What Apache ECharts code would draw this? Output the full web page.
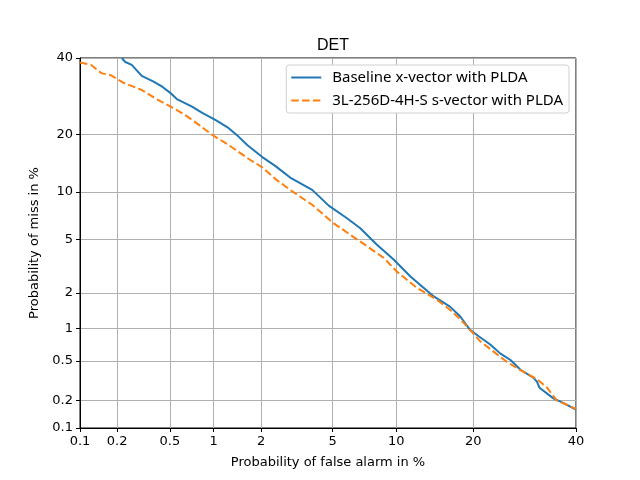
<!DOCTYPE html>
<html>
<head>
<meta charset="utf-8">
<script src="https://cdn.jsdelivr.net/npm/echarts@6/dist/echarts.min.js"></script>
<style>
  html, body { margin: 0; padding: 0; background: #fff; }
  #detContainer { width: 640px; height: 480px; }
</style>
</head>
<body>
<div id="detContainer"></div>
<script>
// tick positions in percent, shown on both axes
const tickPercents = [0.1, 0.2, 0.5, 1, 2, 5, 10, 20, 40];
const tickLabels = ['0.1', '0.2', '0.5', '1', '2', '5', '10', '20', '40'];

// Baseline x-vector with PLDA: false alarm % / miss %
const baselineFa = [0.218, 0.23, 0.26, 0.31, 0.38, 0.44, 0.5, 0.56, 0.71, 0.84, 1.02, 1.25, 1.45, 1.65, 2.02, 2.42, 2.95, 3.9, 4.77, 5.9, 6.85, 8.2, 9.74, 11.5, 14.3, 16.5, 18.0, 19.5, 20.9, 22.9, 24.6, 26.5, 28.4, 31.0, 31.7, 32.2, 35.1, 37.3, 40];
const baselineMiss = [40, 38.9, 38.0, 34.8, 33.2, 31.8, 30.2, 28.5, 26.6, 25, 23.4, 21.5, 19.6, 17.8, 15.6, 14.0, 12.1, 10.3, 8.3, 6.92, 5.96, 4.6, 3.61, 2.69, 1.87, 1.54, 1.27, 0.97, 0.85, 0.71, 0.59, 0.51, 0.41, 0.34, 0.31, 0.27, 0.21, 0.187, 0.159];

// 3L-256D-4H-S s-vector with PLDA
const svectorFa = [0.1, 0.123, 0.15, 0.178, 0.205, 0.227, 0.31, 0.39, 0.516, 0.64, 0.79, 0.975, 1.25, 1.68, 2.02, 2.42, 2.95, 3.9, 5.04, 6.12, 7.37, 8.8, 10.06, 12.25, 14.7, 16.5, 18.1, 19.5, 21.2, 23.5, 25.8, 29.0, 31.7, 33.8, 35.8, 40];
const svectorMiss = [38.7, 38.0, 35.6, 35.0, 33.7, 32.8, 30.9, 28.7, 26.4, 24.5, 22.3, 20.0, 17.9, 15.2, 13.8, 11.9, 10.3, 8.4, 6.44, 5.39, 4.49, 3.71, 2.93, 2.19, 1.76, 1.45, 1.19, 0.97, 0.76, 0.61, 0.49, 0.39, 0.33, 0.27, 0.2, 0.162];

// normal deviate (inverse normal cdf), Acklam's approximation
function probit(p) {
  const a = [-3.969683028665376e+01, 2.209460984245205e+02, -2.759285104469687e+02, 1.383577518672690e+02, -3.066479806614716e+01, 2.506628277459239e+00];
  const b = [-5.447609879822406e+01, 1.615858368580409e+02, -1.556989798598866e+02, 6.680131188771972e+01, -1.328068155288572e+01];
  const c = [-7.784894002430293e-03, -3.223964580411365e-01, -2.400758277161838e+00, -2.549732539343734e+00, 4.374664141464968e+00, 2.938163982698783e+00];
  const d = [7.784695709041462e-03, 3.224671290700398e-01, 2.445134137142996e+00, 3.754408661907416e+00];
  const pl = 0.02425;
  if (p < pl) {
    const q = Math.sqrt(-2 * Math.log(p));
    return (((((c[0] * q + c[1]) * q + c[2]) * q + c[3]) * q + c[4]) * q + c[5]) /
      ((((d[0] * q + d[1]) * q + d[2]) * q + d[3]) * q + 1);
  }
  if (p <= 1 - pl) {
    const q = p - 0.5, r = q * q;
    return (((((a[0] * r + a[1]) * r + a[2]) * r + a[3]) * r + a[4]) * r + a[5]) * q /
      (((((b[0] * r + b[1]) * r + b[2]) * r + b[3]) * r + b[4]) * r + 1);
  }
  const q = Math.sqrt(-2 * Math.log(1 - p));
  return -(((((c[0] * q + c[1]) * q + c[2]) * q + c[3]) * q + c[4]) * q + c[5]) /
    ((((d[0] * q + d[1]) * q + d[2]) * q + d[3]) * q + 1);
}

const pct = v => probit(v / 100);
const tickVals = tickPercents.map(pct);
const axisMin = tickVals[0];
const axisMax = tickVals[tickVals.length - 1];

function tickFormatter(v) {
  let best = 0;
  tickVals.forEach((t, i) => {
    if (Math.abs(t - v) < Math.abs(tickVals[best] - v)) best = i;
  });
  return tickLabels[best];
}

const toPoints = (fa, miss) => fa.map((f, i) => [pct(f), pct(miss[i])]);

const font = 'DejaVu Sans';

function makeAxis(name, nameGap) {
  return {
    type: 'value',
    min: axisMin,
    max: axisMax,
    name: name,
    nameLocation: 'middle',
    nameGap: nameGap,
    nameTextStyle: { color: '#000', fontFamily: font, fontSize: 13 },
    axisLine: { show: true, onZero: false, lineStyle: { color: '#000', width: 1 } },
    axisTick: { show: true, length: 4, customValues: tickVals, lineStyle: { color: '#000' } },
    axisLabel: {
      customValues: tickVals,
      formatter: tickFormatter,
      color: '#000',
      fontFamily: font,
      fontSize: 13,
      margin: 7
    },
    splitLine: { show: true, lineStyle: { color: '#b0b0b0', width: 1 } }
  };
}

const myChart = echarts.init(document.getElementById('detContainer'));
const option = {
  animation: false,
  title: {
    text: 'DET',
    left: 328,
    top: 33,
    textAlign: 'center',
    textStyle: { color: '#000', fontFamily: 'Liberation Sans', fontSize: 16, fontWeight: 'normal' }
  },
  legend: {
    orient: 'vertical',
    right: 71,
    top: 65,
    itemWidth: 30,
    itemHeight: 12,
    itemGap: 8,
    padding: [5, 6, 5, 4],
    backgroundColor: '#fff',
    borderColor: '#d0d0d0',
    borderWidth: 1,
    borderRadius: 3,
    itemStyle: { opacity: 0 },
    textStyle: { color: '#000', fontFamily: 'Noto Sans', fontSize: 15, padding: [0, 0, 0, 6] },
    data: ['Baseline x-vector with PLDA', '3L-256D-4H-S s-vector with PLDA']
  },
  grid: {
    left: 80,
    right: 64,
    top: 58,
    bottom: 52,
    show: true,
    borderColor: '#000',
    borderWidth: 1
  },
  xAxis: makeAxis('Probability of false alarm in %', 28),
  yAxis: makeAxis('Probability of miss in %', 38),
  series: [
    {
      name: 'Baseline x-vector with PLDA',
      type: 'line',
      symbol: 'none',
      clip: true,
      color: '#1f77b4',
      lineStyle: { width: 2, color: '#1f77b4' },
      data: toPoints(baselineFa, baselineMiss)
    },
    {
      name: '3L-256D-4H-S s-vector with PLDA',
      type: 'line',
      symbol: 'none',
      clip: true,
      color: '#ff7f0e',
      lineStyle: { width: 2, color: '#ff7f0e', type: [7.5, 3.3] },
      data: toPoints(svectorFa, svectorMiss)
    }
  ]
};
myChart.setOption(option);
</script>
</body>
</html>
